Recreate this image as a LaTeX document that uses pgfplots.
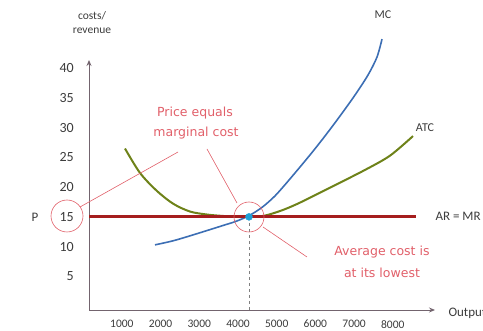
\documentclass[border=0pt]{standalone}
\usepackage{pgfplots}
\pgfplotsset{compat=1.18}
\usetikzlibrary{arrows.meta}
\usepackage{fontspec}
\setmainfont{Carlito}
\newfontfamily\hand{DejaVu Sans}
\definecolor{mccol}{RGB}{60,110,180}
\definecolor{atccol}{RGB}{110,130,25}
\definecolor{arcol}{RGB}{165,30,30}
\definecolor{anncol}{RGB}{225,95,105}
\definecolor{dotcol}{RGB}{30,160,215}
\definecolor{axcol}{RGB}{115,100,110}
\definecolor{txtcol}{RGB}{60,60,60}
\begin{document}
\begin{tikzpicture}
\begin{axis}[
  at={(89pt,-310pt)}, anchor=south west,
  scale only axis, width=346pt, height=250pt,
  xmin=-134, xmax=8806, ymin=-0.67, ymax=41.4,
  axis lines=left,
  axis line style={axcol, line width=0.9pt, -{Stealth[length=6pt,width=5pt]}},
  xtick={1000,2000,3000,4000,5000,6000,7000,8000},
  ytick={5,10,15,20,25,30,35,40},
  major tick length=0pt, tick style={draw=none},
  xticklabel style={font=\fontsize{11.5}{12}\selectfont, text=txtcol, inner sep=0pt, anchor=north, yshift=-10pt, xshift=-11pt},
  yticklabel style={font=\fontsize{14}{15}\selectfont, text=txtcol, inner sep=0pt, anchor=east, xshift=-15pt},
  /pgf/number format/assume math mode=true,
  /pgf/number format/1000 sep={},
  clip=false,
]
\addplot[atccol, line width=2pt, smooth] coordinates {
(796,26.5) (1183,22.4) (1615,19.4) (2044,17.2) (2475,15.9) (2907,15.4) (3336,15.15) (3700,15.03) (4000,15.0) (4400,15.2) (4850,16.1) (5318,17.4) (6180,20.2) (6997,22.9) (7643,25.3) (8238,28.6)};
\addplot[mccol, line width=1.6pt, smooth] coordinates {
(1571,10.29) (2036,10.97) (2475,11.81) (2915,12.7) (3328,13.55) (3664,14.25) (4000,15.2) (4336,16.6) (4672,18.53) (5059,21.39) (5576,25.42) (5964,28.61) (6351,31.97) (6739,35.5) (7075,38.87) (7307,41.89) (7437,44.92)};
\addplot[arcol, line width=3pt] coordinates {(-134,15) (8315,15)};
\addplot[gray, line width=0.9pt, dashed] coordinates {(4000,15) (4000,-0.67)};
\addplot[only marks, mark=*, mark size=3.5pt, dotcol] coordinates {(4000,15)};
\end{axis}
\begin{scope}[x=1pt,y=-1pt]
\draw[anncol, line width=0.6pt] (67,216) circle[radius=16pt];
\draw[anncol, line width=0.6pt] (249,217) circle[radius=15pt];
\draw[anncol, line width=0.6pt] (80,207) -- (178,152);
\draw[anncol, line width=0.6pt] (207,149) -- (237,203);
\draw[anncol, line width=0.6pt] (263,227) -- (307,257);
\node[anncol, font=\hand\fontsize{12.5}{13}\selectfont] at (195,113) {Price equals};
\node[anncol, font=\hand\fontsize{12.5}{13}\selectfont] at (196,133) {marginal cost};
\node[anncol, font=\hand\fontsize{12.5}{13}\selectfont] at (382,252) {Average cost is};
\node[anncol, font=\hand\fontsize{12.5}{13}\selectfont] at (382,273) {at its lowest};
\node[txtcol, font=\fontsize{12}{13}\selectfont] at (383,15) {MC};
\node[txtcol, font=\fontsize{12}{13}\selectfont] at (425,128) {ATC};
\node[txtcol, font=\fontsize{13}{14}\selectfont, anchor=west] at (432,216) {AR = MR};
\node[txtcol, font=\fontsize{13}{14}\selectfont, anchor=west] at (445,313) {Output};
\node[txtcol, font=\fontsize{11.5}{12}\selectfont] at (92,16) {costs/};
\node[txtcol, font=\fontsize{11.5}{12}\selectfont] at (92,31) {revenue};
\node[txtcol, font=\fontsize{13}{14}\selectfont] at (35,217) {P};
\end{scope}
\pgfresetboundingbox
\path[use as bounding box] (0pt,0pt) rectangle (483pt,-331pt);
\end{tikzpicture}
\end{document}
